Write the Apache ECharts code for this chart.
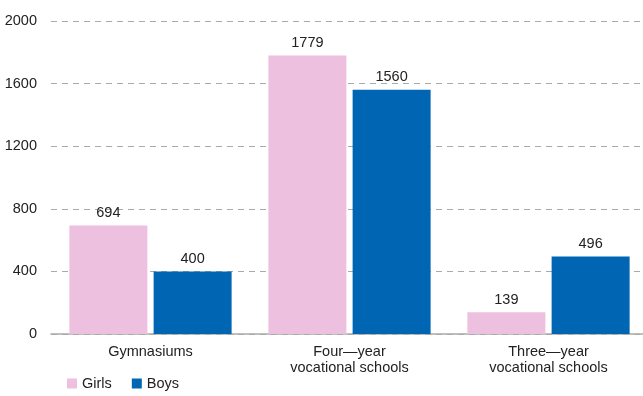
<!DOCTYPE html>
<html><head><meta charset="utf-8">
<script src="https://cdn.jsdelivr.net/npm/echarts@6/dist/echarts.min.js"></script>
<style>html,body{margin:0;padding:0;background:#fff}#c{width:643px;height:396px}</style>
</head><body><div id="c"></div>
<script>
const categories = ['Gymnasiums', 'Four\u2014year\nvocational schools', 'Three\u2014year\nvocational schools'];
const girls = [694, 1779, 139];
const boys = [400, 1560, 496];
const yTicks = [0, 400, 800, 1200, 1600, 2000];

const chart = echarts.init(document.getElementById('c'));
const font = 'Liberation Sans, Arial, sans-serif';
const fs = 14.5;
chart.setOption({
  animation: false,
  textStyle: { fontFamily: font },
  legend: {
    left: 62, bottom: 0, itemWidth: 10, itemHeight: 10, itemGap: 20,
    icon: 'rect',
    textStyle: { fontSize: fs, color: '#222', fontFamily: font },
    data: ['Girls', 'Boys']
  },
  grid: { left: 51, width: 597, top: 21, bottom: 62, outerBoundsMode: 'none', containLabel: false },
  xAxis: {
    type: 'category', data: categories,
    axisLine: { lineStyle: { color: '#aaa', width: 1.5 } },
    axisTick: { show: false },
    axisLabel: { fontSize: fs, color: '#222', lineHeight: 16, margin: 10, fontFamily: font }
  },
  yAxis: {
    type: 'value', min: yTicks[0], max: yTicks[yTicks.length - 1], interval: 400,
    axisLine: { show: false }, axisTick: { show: false },
    axisLabel: { fontSize: fs, color: '#222', margin: 14, fontFamily: font, formatter: v => String(v) },
    splitLine: { lineStyle: { color: '#aaa', type: [6, 5] } }
  },
  series: [
    { name: 'Girls', type: 'bar', data: girls, barWidth: 78, barGap: '8%',
      itemStyle: { color: '#ecc0de' },
      label: { show: true, position: 'top', fontSize: fs, color: '#222', distance: 5, fontFamily: font } },
    { name: 'Boys', type: 'bar', data: boys, barWidth: 78,
      itemStyle: { color: '#0066b3' },
      label: { show: true, position: 'top', fontSize: fs, color: '#222', distance: 5, fontFamily: font } }
  ]
});
</script></body></html>
